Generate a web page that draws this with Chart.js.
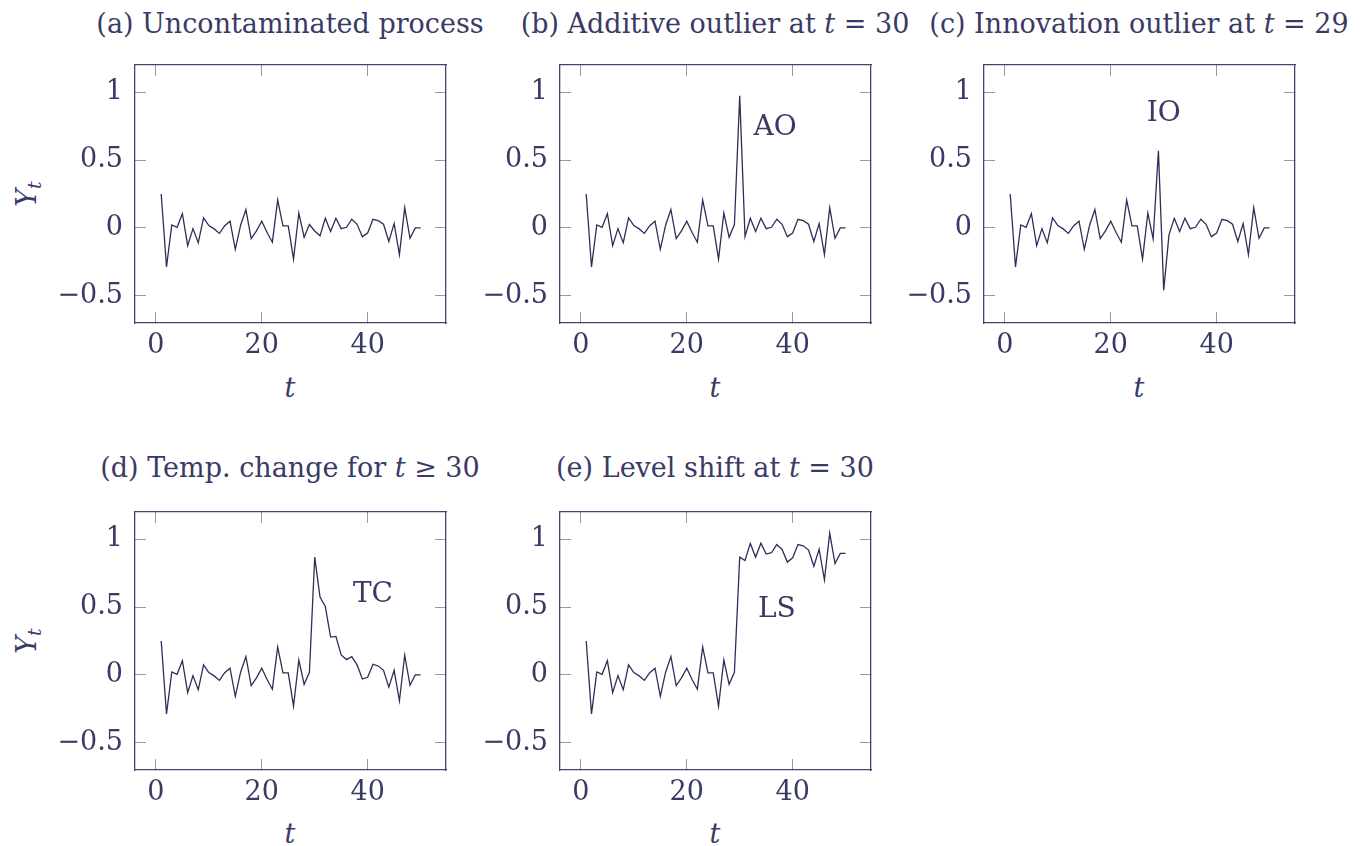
<!DOCTYPE html>
<html lang="en">
<head>
<meta charset="UTF-8">
<title>Outlier types</title>
<script src="https://cdn.jsdelivr.net/npm/chart.js"></script>
<style>
  body {
    margin: 0;
    width: 1368px;
    height: 846px;
    position: relative;
    overflow: hidden;
    background: #fff;
    font-family: 'DejaVu Serif', serif;
    color: #3a3a66;
  }
  .panel { position: absolute; width: 416px; height: 333px; }
  .title {
    position: absolute;
    font-size: 27px;
    line-height: 30px;
    white-space: nowrap;
    transform: translateX(-50%);
  }
  .xlab {
    position: absolute;
    font-size: 27px;
    line-height: 30px;
    font-style: italic;
    transform: translateX(-50%);
  }
  .ylab {
    position: absolute;
    font-size: 27px;
    line-height: 30px;
    white-space: nowrap;
    transform: translate(-50%, -50%) rotate(-90deg);
  }
  .ylab sub { font-size: 19px; font-style: italic; vertical-align: -5px; }
</style>
</head>
<body>
  <div class="title" style="left:290px; top:9px">(a) Uncontaminated process</div>
  <div class="title" style="left:715px; top:9px">(b) Additive outlier at <i>t</i> = 30</div>
  <div class="title" style="left:1139px; top:9px">(c) Innovation outlier at <i>t</i> = 29</div>
  <div class="title" style="left:290px; top:453px">(d) Temp. change for <i>t</i> ≥ 30</div>
  <div class="title" style="left:715px; top:453px">(e) Level shift at <i>t</i> = 30</div>

  <div class="ylab" style="left:30px; top:194px"><i>Y</i><sub>t</sub></div>
  <div class="ylab" style="left:30px; top:641px"><i>Y</i><sub>t</sub></div>

  <div class="xlab" style="left:290px; top:373px">t</div>
  <div class="xlab" style="left:715px; top:373px">t</div>
  <div class="xlab" style="left:1139px; top:373px">t</div>
  <div class="xlab" style="left:290px; top:819px">t</div>
  <div class="xlab" style="left:715px; top:819px">t</div>

  <canvas id="pa" class="panel" width="416" height="333" style="left:45px; top:50px"></canvas>
  <canvas id="pb" class="panel" width="416" height="333" style="left:470px; top:50px"></canvas>
  <canvas id="pc" class="panel" width="416" height="333" style="left:894px; top:50px"></canvas>
  <canvas id="pd" class="panel" width="416" height="333" style="left:45px; top:497px"></canvas>
  <canvas id="pe" class="panel" width="416" height="333" style="left:470px; top:497px"></canvas>

  <script>
    const tValues = [1, 2, 3, 4, 5, 6, 7, 8, 9, 10, 11, 12, 13, 14, 15, 16, 17, 18, 19, 20,
      21, 22, 23, 24, 25, 26, 27, 28, 29, 30, 31, 32, 33, 34, 35, 36, 37, 38, 39, 40,
      41, 42, 43, 44, 45, 46, 47, 48, 49, 50];

    const cleanSeries = [0.25, -0.287, 0.022, 0.005, 0.105, -0.13, -0.005, -0.108, 0.074, 0.017,
      -0.007, -0.04, 0.017, 0.05, -0.157, 0.02, 0.135, -0.078, -0.022, 0.049,
      -0.034, -0.105, 0.206, 0.015, 0.015, -0.23, 0.11, -0.069, 0.025, -0.022,
      -0.058, 0.071, -0.027, 0.071, -0.005, 0.005, 0.064, 0.027, -0.064, -0.037,
      0.064, 0.054, 0.027, -0.1, 0.032, -0.196, 0.15, -0.076, 0, 0];

    const aoSeries = [0.25, -0.287, 0.022, 0.005, 0.105, -0.13, -0.005, -0.108, 0.074, 0.017,
      -0.007, -0.04, 0.017, 0.05, -0.157, 0.02, 0.135, -0.078, -0.022, 0.049,
      -0.034, -0.105, 0.206, 0.015, 0.015, -0.23, 0.11, -0.069, 0.025, 0.973,
      -0.062, 0.071, -0.027, 0.071, -0.005, 0.005, 0.064, 0.027, -0.064, -0.037,
      0.064, 0.054, 0.027, -0.1, 0.032, -0.196, 0.15, -0.076, 0, 0];

    const ioSeries = [0.25, -0.287, 0.022, 0.005, 0.105, -0.13, -0.005, -0.108, 0.074, 0.017,
      -0.007, -0.04, 0.017, 0.05, -0.157, 0.02, 0.135, -0.078, -0.022, 0.049,
      -0.034, -0.105, 0.206, 0.015, 0.015, -0.23, 0.11, -0.08, 0.569, -0.458,
      -0.049, 0.071, -0.027, 0.071, -0.005, 0.005, 0.064, 0.027, -0.064, -0.037,
      0.064, 0.054, 0.027, -0.1, 0.032, -0.196, 0.15, -0.076, 0, 0];

    const tcSeries = [0.25, -0.287, 0.022, 0.005, 0.105, -0.13, -0.005, -0.108, 0.074, 0.017,
      -0.007, -0.04, 0.017, 0.05, -0.157, 0.02, 0.135, -0.078, -0.022, 0.049,
      -0.034, -0.105, 0.206, 0.015, 0.015, -0.23, 0.11, -0.069, 0.02, 0.868,
      0.574, 0.505, 0.279, 0.284, 0.147, 0.113, 0.135, 0.074, -0.03, -0.017,
      0.078, 0.066, 0.034, -0.09, 0.034, -0.19, 0.145, -0.076, 0, 0];

    const lsSeries = [0.25, -0.287, 0.022, 0.005, 0.105, -0.13, -0.005, -0.108, 0.074, 0.017,
      -0.007, -0.04, 0.017, 0.05, -0.157, 0.02, 0.135, -0.078, -0.022, 0.049,
      -0.034, -0.105, 0.206, 0.015, 0.015, -0.23, 0.11, -0.069, 0.02, 0.868,
      0.843, 0.968, 0.868, 0.97, 0.89, 0.9, 0.96, 0.924, 0.831, 0.863,
      0.96, 0.951, 0.92, 0.8, 0.926, 0.7, 1.044, 0.82, 0.895, 0.895];

    const xTicks = [0, 20, 40];
    const xTickLabels = ['0', '20', '40'];
    const yTicks = [-0.5, 0, 0.5, 1];
    const yTickLabels = ['\u22120.5', '0', '0.5', '1'];

    const TEXT = '#3a3a66';
    const LINE = '#2e2e58';
    const BOX = '#45456d';
    const TICK = '#9a9a9a';
    const tickFont = { family: "'DejaVu Serif', serif", size: 27 };

    // text label placed at data coordinates (AO, IO, TC, LS)
    const notePlugin = {
      id: 'note',
      afterDatasetsDraw(chart, args, opts) {
        if (!opts || !opts.text) return;
        const { ctx, scales } = chart;
        ctx.save();
        ctx.font = "28px 'DejaVu Serif', serif";
        ctx.fillStyle = TEXT;
        ctx.textAlign = 'center';
        ctx.textBaseline = 'middle';
        ctx.fillText(opts.text, scales.x.getPixelForValue(opts.x), scales.y.getPixelForValue(opts.y));
        ctx.restore();
      }
    };

    function setTicks(values) {
      return scale => { scale.ticks = values.map(v => ({ value: v })); };
    }

    // fixed scale size, and no extra padding so the plot box lands where we want it
    function fixSize(w, h) {
      return s => {
        if (w !== null) s.width = w;
        if (h !== null) s.height = h;
        s.paddingTop = 0; s.paddingBottom = 0; s.paddingLeft = 0; s.paddingRight = 0;
      };
    }

    function buildOptions(note) {
      const inward = { drawOnChartArea: false, tickLength: -11, color: TICK, lineWidth: 1 };
      const border = { color: BOX, width: 1.3 };
      return {
        responsive: false,
        animation: false,
        events: [],
        layout: { autoPadding: false, padding: { left: 0, top: 15, right: 15, bottom: 0 } },
        plugins: { legend: { display: false }, tooltip: { enabled: false }, note: note || {} },
        scales: {
          x: {
            type: 'linear', position: 'bottom', min: -3.95, max: 54.8,
            afterBuildTicks: setTicks(xTicks),
            afterFit: fixSize(null, 60),
            grid: inward, border: border,
            ticks: {
              padding: 18, color: TEXT, font: tickFont, maxRotation: 0,
              callback: v => xTickLabels[xTicks.indexOf(v)]
            }
          },
          x2: {
            type: 'linear', position: 'top', min: -3.95, max: 54.8,
            afterBuildTicks: setTicks(xTicks),
            afterFit: fixSize(null, 0),
            grid: inward, border: border,
            ticks: { display: false }
          },
          y: {
            type: 'linear', position: 'left', min: -0.7, max: 1.2,
            afterBuildTicks: setTicks(yTicks),
            afterFit: fixSize(90, null),
            grid: inward, border: border,
            ticks: {
              padding: 23, color: TEXT, font: tickFont,
              callback: v => yTickLabels[yTicks.indexOf(v)]
            }
          },
          y2: {
            type: 'linear', position: 'right', min: -0.7, max: 1.2,
            afterBuildTicks: setTicks(yTicks),
            afterFit: fixSize(0, null),
            grid: inward, border: border,
            ticks: { display: false }
          }
        }
      };
    }

    function drawPanel(id, series, note) {
      const ctx = document.getElementById(id).getContext('2d');
      new Chart(ctx, {
        type: 'line',
        data: {
          datasets: [{
            data: tValues.map((t, i) => ({ x: t, y: series[i] })),
            borderColor: LINE,
            borderWidth: 1.3,
            pointRadius: 0,
            tension: 0,
            fill: false
          }]
        },
        options: buildOptions(note),
        plugins: [notePlugin]
      });
    }

    drawPanel('pa', cleanSeries);
    drawPanel('pb', aoSeries, { text: 'AO', x: 36.7, y: 0.74 });
    drawPanel('pc', ioSeries, { text: 'IO', x: 30, y: 0.84 });
    drawPanel('pd', tcSeries, { text: 'TC', x: 41, y: 0.59 });
    drawPanel('pe', lsSeries, { text: 'LS', x: 37, y: 0.48 });
  </script>
</body>
</html>
